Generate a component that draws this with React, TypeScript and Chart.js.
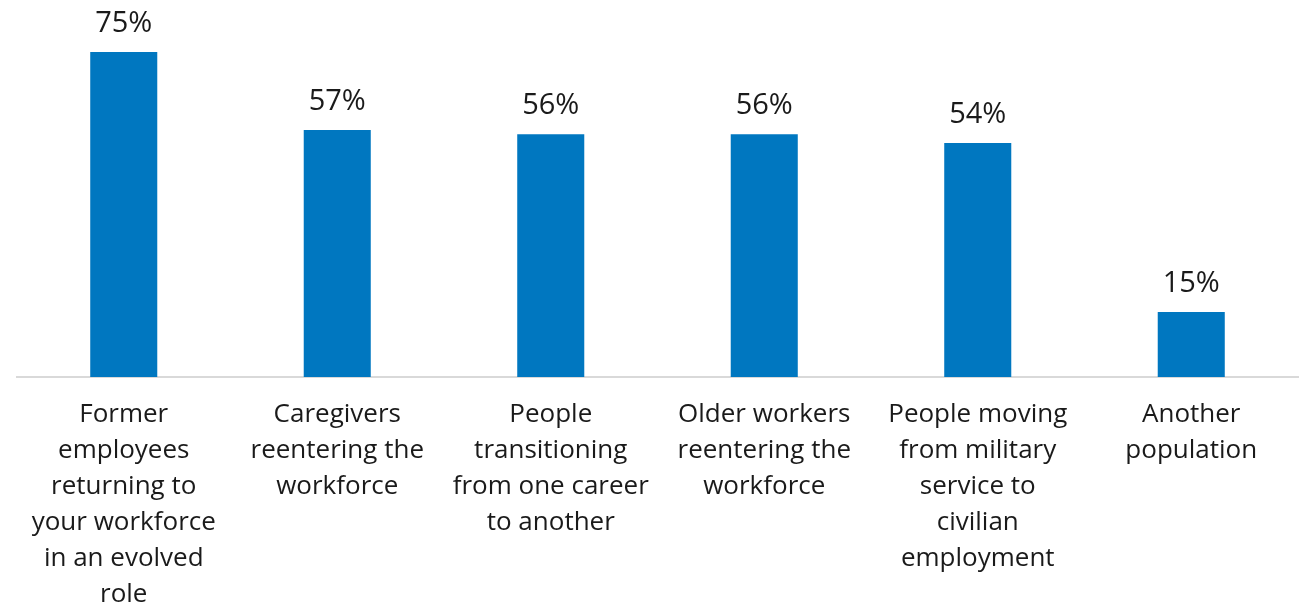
import React, { useEffect, useRef } from "react";
import { Chart, registerables } from "chart.js";

Chart.register(...registerables);

const categories: string[][] = [
  ["Former", "employees", "returning to", "your workforce", "in an evolved", "role"],
  ["Caregivers", "reentering the", "workforce"],
  ["People", "transitioning", "from one career", "to another"],
  ["Older workers", "reentering the", "workforce"],
  ["People moving", "from military", "service to", "civilian", "employment"],
  ["Another", "population"],
];
const values: number[] = [75, 57, 56, 56, 54, 15];

const FONT = "'Open Sans', Lato, sans-serif";

const valueLabels = {
  id: "valueLabels",
  afterDatasetsDraw(chart: any) {
    const ctx = chart.ctx;
    const meta = chart.getDatasetMeta(0);
    ctx.save();
    ctx.font = `29px ${FONT}`;
    ctx.fillStyle = "#1a1a1a";
    ctx.textAlign = "center";
    ctx.textBaseline = "alphabetic";
    meta.data.forEach((bar: any, i: number) => {
      ctx.fillText(values[i] + "%", bar.x, bar.y - 20);
    });
    ctx.restore();
  },
};

export default function App() {
  const ref = useRef<HTMLCanvasElement>(null);
  useEffect(() => {
    if (!ref.current) return;
    const chart = new Chart(ref.current, {
      type: "bar",
      data: {
        labels: categories,
        datasets: [
          {
            data: values,
            backgroundColor: "#0077C0",
            barPercentage: 0.314,
            categoryPercentage: 1,
          },
        ],
      },
      options: {
        responsive: false,
        animation: false,
        layout: { padding: { left: 17, right: 11, top: 0, bottom: 0 } },
        plugins: { legend: { display: false }, tooltip: { enabled: false } },
        scales: {
          y: { display: false, min: 0, max: 87 },
          x: {
            grid: { display: false, drawTicks: false },
            border: { display: true, color: "#d9d9d9", width: 2 },
            ticks: {
              color: "#1a1a1a",
              font: { family: FONT, size: 26, lineHeight: 36 / 26 },
              padding: 20,
              maxRotation: 0,
              autoSkip: false,
            },
            afterFit(scale: any) {
              scale.height = 227;
            },
          },
        },
      },
      plugins: [valueLabels],
    });
    return () => chart.destroy();
  }, []);
  return (
    <div style={{ position: "absolute", left: 0, top: 0, width: 1309, height: 604, background: "#fff" }}>
      <canvas ref={ref} width={1309} height={604} />
    </div>
  );
}
